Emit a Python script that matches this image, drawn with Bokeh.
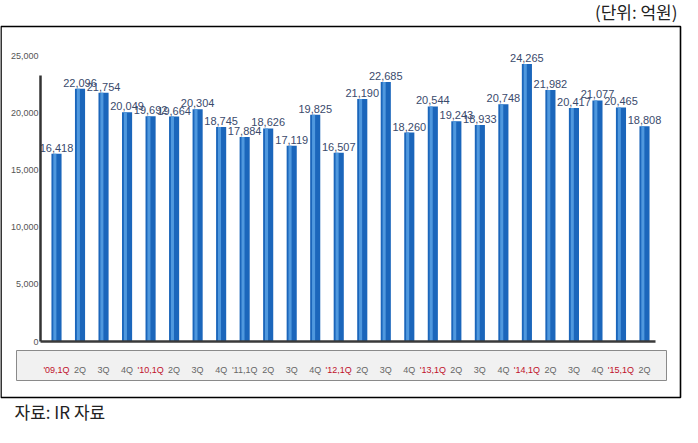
from bokeh.plotting import figure
from bokeh.models import Range1d, ColumnDataSource
from bokeh.core.properties import value
from bokeh.embed import file_html
from bokeh.resources import INLINE

# ---- data ----
quarters = ["'09,1Q", "2Q", "3Q", "4Q",
            "'10,1Q", "2Q", "3Q", "4Q",
            "'11,1Q", "2Q", "3Q", "4Q",
            "'12,1Q", "2Q", "3Q", "4Q",
            "'13,1Q", "2Q", "3Q", "4Q",
            "'14,1Q", "2Q", "3Q", "4Q",
            "'15,1Q", "2Q"]
sales = [16418, 22096, 21754, 20049,
         19692, 19664, 20304, 18745,
         17884, 18626, 17119, 19825,
         16507, 21190, 22685, 18260,
         20544, 19243, 18933, 20748,
         24265, 21982, 20417, 21077,
         20465, 18808]
highlight = ["'09,1Q", "'10,1Q", "'12,1Q", "'13,1Q", "'14,1Q", "'15,1Q"]
y_ticks = [0, 5000, 10000, 15000, 20000, 25000]
y_tick_labels = ["0", "5,000", "10,000", "15,000", "20,000", "25,000"]
unit_text = "(단위: 억원)"
source_text = "자료: IR 자료"

# ---- layout (pixels within the figure) ----
W, H = 682, 427
Y0_PX, YTOP_PX = 341, 55          # pixel rows of 0 and 25,000
X0_PX, DX_PX = 56, 23.52          # pixel column of first bar, bar pitch
ys = (Y0_PX - YTOP_PX) / 25000.0


def px_x(fx):
    return (fx - X0_PX) / DX_PX


def px_y(fy):
    return (Y0_PX - fy) / ys


p = figure(width=W, height=H, output_backend="svg", toolbar_location=None,
           x_range=Range1d(px_x(0), px_x(W)), y_range=Range1d(px_y(H), px_y(0)),
           min_border=0, outline_line_color=None)
p.axis.visible = False
p.grid.visible = False
p.background_fill_color = "white"
p.border_fill_color = "white"

num_font = value("Liberation Sans")
kr_font = value("Noto Sans CJK KR")

# outer frame
p.quad(left=px_x(0.5), right=px_x(680), top=px_y(26), bottom=px_y(397),
       fill_color=None, line_color="black", line_width=1.6)

# category strip
p.quad(left=px_x(16), right=px_x(666), top=px_y(350), bottom=px_y(380),
       fill_color="#f1f1f1", line_color="#8a8a8a", line_width=1)

xs = list(range(len(sales)))
src = ColumnDataSource(dict(
    x=xs, top=sales,
    xl=[x - 0.07 for x in xs],
    lab=[f"{v:,}" for v in sales],
    q=quarters,
    qc=["#c0102a" if q in highlight else "#666666" for q in quarters],
))

# bars with a light stripe
p.vbar(x="x", top="top", bottom=0, width=0.43, source=src,
       fill_color="#1b66bb", line_color=None)
p.vbar(x="xl", top="top", bottom=0, width=0.13, source=src,
       fill_color="#4f98de", line_color=None)

# value labels
p.text(x="x", y="top", text="lab", source=src, text_font=num_font,
       text_font_size="11px", text_color="#3a4a6c", text_align="center",
       text_baseline="alphabetic", y_offset=-6)

# axis lines
p.segment(x0=px_x(40), y0=0, x1=px_x(40), y1=px_y(75),
          line_color="#333333", line_width=2.5)
p.segment(x0=px_x(40), y0=0, x1=px_x(655), y1=0,
          line_color="#3a3a3a", line_width=2.5)

# y tick labels
p.text(x=[px_x(38)] * len(y_ticks), y=y_ticks, text=y_tick_labels,
       text_font=num_font, text_font_size="9px", text_color="#555555",
       text_align="right", text_baseline="middle")

# category labels
p.text(x="x", y=px_y(369), text="q", source=src, text_color="qc",
       text_font=num_font, text_font_size="9px", text_align="center",
       text_baseline="alphabetic")

# unit note and source
p.text(x=[px_x(677)], y=[px_y(11)], text=[unit_text], text_font=kr_font,
       text_font_size="17px", text_color="#222222", text_align="right",
       text_baseline="middle")
p.text(x=[px_x(14)], y=[px_y(411)], text=[source_text], text_font=kr_font,
       text_font_size="17px", text_color="#222222", text_align="left",
       text_baseline="middle")

open("out.html", "w").write(file_html(p, INLINE))
